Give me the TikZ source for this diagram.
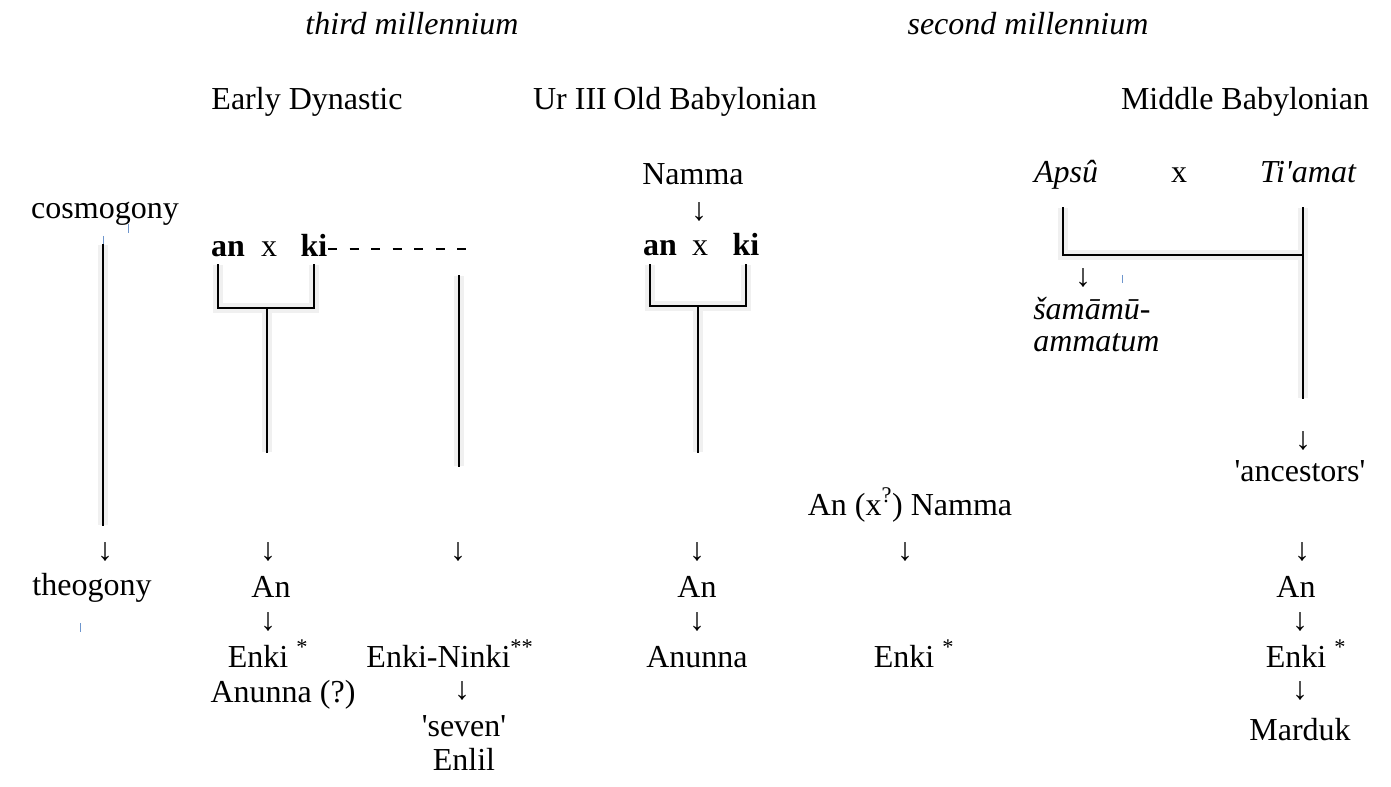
\documentclass[tikz,border=0pt]{standalone}
\usepackage{fontspec}
\setmainfont{Liberation Serif}
\definecolor{tickblue}{RGB}{110,150,205}
\begin{document}
\begin{tikzpicture}[x=0.75pt,y=-0.75pt,
  txt/.style={inner sep=0pt, anchor=base, font=\fontsize{24}{28}\selectfont},
  lft/.style={txt, anchor=base west},
  arr/.style={inner sep=0pt, font=\fontsize{24}{28}\selectfont},
  ln/.style={line width=1.6pt, line cap=rect},
  shd/.style={line width=7pt, draw=black!6, shift={(4,2)}},
  dashline/.style={line width=1.8pt, dash pattern=on 6.75pt off 9.4pt},
  tick/.style={draw=tickblue, line width=0.75pt}]
\useasboundingbox (0,0) rectangle (1391,787);

% headings
\node[txt, font=\fontsize{24}{28}\selectfont\itshape] (h1) at (412,35) {third millennium};
\node[txt, font=\fontsize{24}{28}\selectfont\itshape] (h2) at (1028,35) {second millennium};
\node[txt] (p1) at (307,110) {Early Dynastic};
\node[txt] (p2) at (570,110) {Ur III};
\node[lft] (p3) at (613,110) {Old Babylonian};
\node[txt] (p4) at (1245,110) {Middle Babylonian};

% left column
\node[txt] (cosmo) at (105,219) {cosmogony};
\node[txt] (theo) at (92,595) {theogony};
\coordinate (c1t) at (103,245); \coordinate (c1b) at (103,525);
\draw[shd] (c1t) -- (c1b);
\draw[ln] (c1t) -- (c1b);
\node[arr] (a0) at (105,552) {↓};

% Early Dynastic
\node[txt, font=\fontsize{24}{28}\selectfont\bfseries] (an1) at (228,257) {an};
\node[txt] (x1) at (269,257) {x};
\node[txt, font=\fontsize{24}{28}\selectfont\bfseries] (ki1) at (314,257) {ki};
\coordinate (dS) at (328,249); \coordinate (dE) at (468,249);
\draw[dashline] (dS) -- (dE);
\coordinate (edL) at (218,265); \coordinate (edLb) at (218,308);
\coordinate (edR) at (314,265); \coordinate (edRb) at (314,308);
\coordinate (edM) at (267,308); \coordinate (edMb) at (267,452);
\draw[shd] (edL) -- (edLb) -- (edRb) -- (edR) (edM) -- (edMb);
\draw[ln] (edL) -- (edLb) -- (edRb) -- (edR) (edM) -- (edMb);
\node[arr] (a1) at (268,552) {↓};
\node[txt] (an1g) at (271,597) {An};
\node[arr] (a2) at (268,622) {↓};
\node[txt] (enki1) at (268,667) {Enki \textsuperscript{*}};
\node[txt] (anun1) at (283,702) {Anunna (?)};

% Ur III
\coordinate (ur1) at (459,276); \coordinate (ur2) at (459,466);
\draw[shd] (ur1) -- (ur2);
\draw[ln] (ur1) -- (ur2);
\node[arr] (a3) at (458,552) {↓};
\node[txt] (ekn) at (450,667) {Enki-Ninki\textsuperscript{**}};
\node[arr] (a4) at (462,691) {↓};
\node[txt] (seven) at (464,736) {\textquotesingle seven\textquotesingle};
\node[txt] (enlil) at (464,770) {Enlil};

% Old Babylonian
\node[txt] (namma) at (693,185) {Namma};
\node[arr] (a5) at (699,212) {↓};
\node[txt, font=\fontsize{24}{28}\selectfont\bfseries] (an2) at (660,256) {an};
\node[txt] (x2) at (700,256) {x};
\node[txt, font=\fontsize{24}{28}\selectfont\bfseries] (ki2) at (746,256) {ki};
\coordinate (obL) at (650,265); \coordinate (obLb) at (650,306);
\coordinate (obR) at (746,265); \coordinate (obRb) at (746,306);
\coordinate (obM) at (698,306); \coordinate (obMb) at (698,452);
\draw[shd] (obL) -- (obLb) -- (obRb) -- (obR) (obM) -- (obMb);
\draw[ln] (obL) -- (obLb) -- (obRb) -- (obR) (obM) -- (obMb);
\node[arr] (a6) at (697,552) {↓};
\node[txt] (an2g) at (697,597) {An};
\node[arr] (a7) at (697,622) {↓};
\node[txt] (anun2) at (697,667) {Anunna};

% An (x?) Namma
\node[txt] (axn) at (910,515) {An (x\textsuperscript{?}) Namma};
\node[arr] (a8) at (905,552) {↓};
\node[txt] (enki2) at (914,667) {Enki \textsuperscript{*}};

% Middle Babylonian
\node[txt, font=\fontsize{24}{28}\selectfont\itshape] (apsu) at (1066,183) {Apsû};
\node[txt] (x3) at (1179,183) {x};
\node[txt, font=\fontsize{24}{28}\selectfont\itshape] (tiam) at (1308,183) {Ti\textquotesingle amat};
\coordinate (mbL) at (1063,208); \coordinate (mbLb) at (1063,255);
\coordinate (mbJ) at (1303,255);
\coordinate (mbR) at (1303,208); \coordinate (mbRb) at (1303,398);
\draw[shd] (mbL) -- (mbLb) -- (mbJ) (mbR) -- (mbRb);
\draw[ln] (mbL) -- (mbLb) -- (mbJ) (mbR) -- (mbRb);
\node[arr] (a9) at (1083,278) {↓};
\node[lft, font=\fontsize{24}{28}\selectfont\itshape] (sam) at (1033,320) {šamāmū-};
\node[lft, font=\fontsize{24}{28}\selectfont\itshape] (amm) at (1033,352) {ammatum};
\node[arr] (a10) at (1303,441) {↓};
\node[txt] (anc) at (1300,481) {\textquotesingle ancestors\textquotesingle};
\node[arr] (a11) at (1302,552) {↓};
\node[txt] (an3g) at (1296,597) {An};
\node[arr] (a12) at (1300,622) {↓};
\node[txt] (enki3) at (1306,667) {Enki \textsuperscript{*}};
\node[arr] (a13) at (1300,691) {↓};
\node[txt] (mard) at (1300,740) {Marduk};

% small blue marks
\draw[tick] (103,236) -- (103,244);
\draw[tick] (128,224) -- (128,233);
\draw[tick] (80,623) -- (80,632);
\draw[tick] (1122,275) -- (1122,283);
\end{tikzpicture}
\end{document}
